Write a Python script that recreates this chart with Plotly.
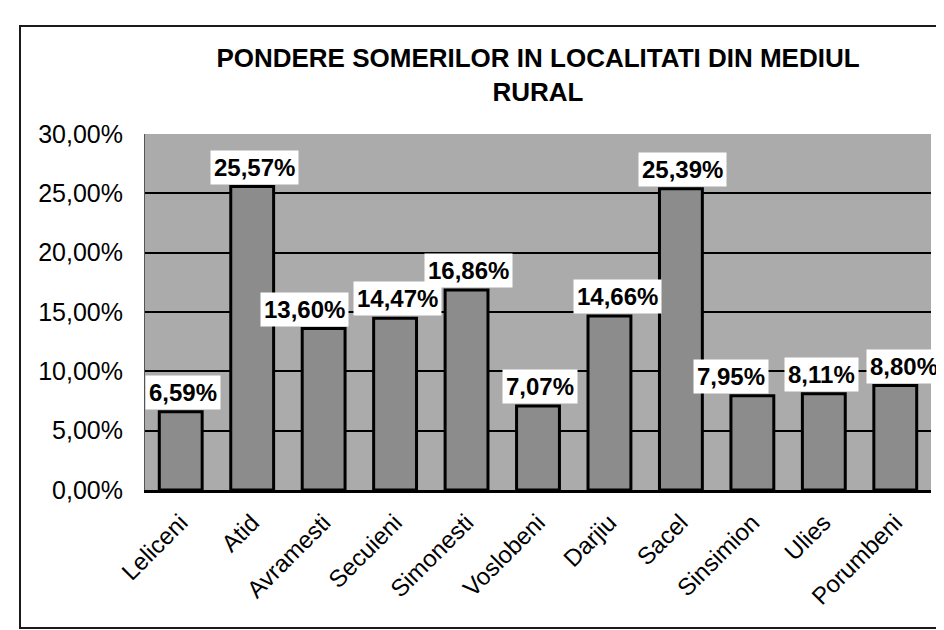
import plotly.graph_objects as go

categories = ["Leliceni", "Atid", "Avramesti", "Secuieni", "Simonesti", "Voslobeni",
              "Darjiu", "Sacel", "Sinsimion", "Ulies", "Porumbeni"]
values = [6.59, 25.57, 13.60, 14.47, 16.86, 7.07, 14.66, 25.39, 7.95, 8.11, 8.80]
title_text = "PONDERE SOMERILOR IN LOCALITATI DIN MEDIUL<br>RURAL"

# horizontal nudges (px) of the data labels, as placed in the original chart
label_dx = [2, 2, -19, 2, 2, 2, 8, 2, -21, -2, 9]

FONT = "Arial, Liberation Sans, sans-serif"

fig = go.Figure()
fig.add_trace(go.Bar(
    x=categories, y=values,
    marker=dict(color="#8c8c8c", line=dict(color="black", width=3)),
    hoverinfo="skip",
))

for c, v, dx in zip(categories, values, label_dx):
    fig.add_annotation(
        x=c, y=v, xref="x", yref="y",
        text=f"{v:.2f}".replace(".", ",") + "%",
        showarrow=False, yanchor="bottom", yshift=2, xshift=dx,
        bgcolor="white", borderpad=3,
        font=dict(family=FONT, size=24, color="black", weight="bold"),
    )

# outer chart frame
L, R, T, B = 137, 21, 126, 148
pw, ph = 944 - L - R, 630 - T - B
fig.add_shape(type="rect", xref="paper", yref="paper",
              x0=(12 - L) / pw, x1=(940 - L) / pw,
              y0=(630 - B - 620) / ph, y1=(630 - B - 18) / ph,
              line=dict(color="#1a1a1a", width=2), fillcolor="rgba(0,0,0,0)")

fig.update_layout(
    width=944, height=630,
    margin=dict(l=L, r=R, t=T, b=B),
    paper_bgcolor="white", plot_bgcolor="#ababab",
    separators=", ",
    bargap=0.4,
    showlegend=False,
    title=dict(text=title_text, x=530 / 944, xanchor="center",
               y=1 - 59 / 630, yanchor="middle",
               font=dict(family=FONT, size=26, color="black", weight="bold")),
    font=dict(family=FONT, color="black"),
)
fig.update_yaxes(range=[0, 30], autorange=False, dtick=5, tickformat=".2f", ticksuffix="%",
                 showgrid=True, gridcolor="black", gridwidth=1.5,
                 zeroline=False, showline=True, linecolor="#555", linewidth=1,
                 ticks="", ticklabelstandoff=16,
                 tickfont=dict(family=FONT, size=25, color="black"))
fig.update_xaxes(range=[-0.5, len(categories) - 0.5], autorange=False,
                 tickangle=-45, showline=True, linecolor="black", linewidth=3,
                 ticks="", showgrid=False, ticklabelstandoff=6,
                 tickfont=dict(family=FONT, size=24, color="black"))

fig.write_html("out.html")
